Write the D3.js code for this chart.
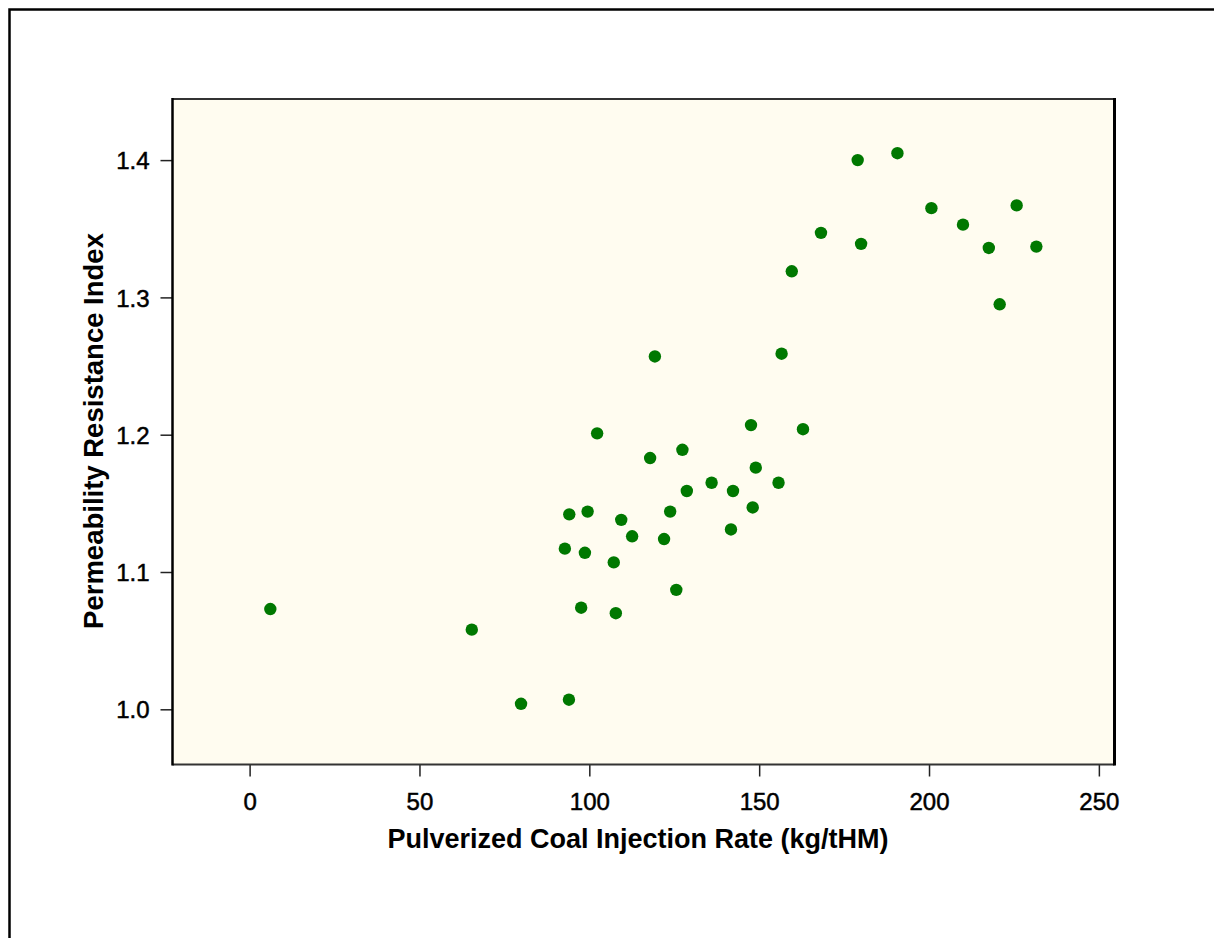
<!DOCTYPE html>
<html>
<head>
<meta charset="utf-8">
<script src="https://cdn.jsdelivr.net/npm/d3@7"></script>
<style>
	body{margin:0;background:#fff;}
	#chart text{font-family:"Liberation Sans",Arial,sans-serif;fill:#000;}
</style>
</head>
<body>
<div id="chart"></div>
<script>
// PCI rate (kg/tHM) vs permeability resistance index
var pciRate=[6.1,65.4,79.9,94.0,92.8,94.1,99.5,98.7,97.6,102.3,109.4,107.2,107.8,112.6,119.3,117.9,122.0,123.8,125.6,127.4,128.7,136.0,141.7,142.3,147.6,148.1,149.0,155.7,156.6,162.9,159.6,168.2,179.0,180.0,190.7,200.7,210.0,217.6,220.8,225.8,231.6];
var resistIdx=[1.073,1.058,1.004,1.007,1.117,1.142,1.144,1.114,1.074,1.201,1.138,1.107,1.070,1.126,1.257,1.183,1.124,1.144,1.087,1.189,1.159,1.165,1.131,1.159,1.207,1.147,1.176,1.165,1.259,1.204,1.319,1.347,1.400,1.339,1.405,1.365,1.353,1.336,1.295,1.367,1.337];
var xTicks=[0,50,100,150,200,250];
var yTicks=[1.0,1.1,1.2,1.3,1.4];
var xTitle="Pulverized Coal Injection Rate (kg/tHM)";
var yTitle="Permeability Resistance Index";

(function(){
	var width=1214;var height=938;
	var left=172.5;var right=1114.5;var top=99;var bottom=764.5;
	var ticklen=12;

	var svg=d3.select("#chart").append("svg")
			.attr("width",width)
			.attr("height",height);

	// page border (top + left only)
	svg.append("path")
		.attr("d","M9.5,938 L9.5,9.5 L1214,9.5")
		.attr("fill","none")
		.attr("stroke","#000")
		.attr("stroke-width",2.5);

	var x=d3.scaleLinear().domain([-22.7,254.6]).range([left,right]);
	var y=d3.scaleLinear().domain([0.9598,1.4445]).range([bottom,top]);

	svg.append("rect")
		.attr("x",left).attr("y",top)
		.attr("width",right-left).attr("height",bottom-top)
		.attr("fill","#fffcf0");

	var xAxis=d3.axisBottom(x).tickValues(xTicks).tickSize(ticklen).tickPadding(16).tickFormat(d3.format("d"));
	var yAxis=d3.axisLeft(y).tickValues(yTicks).tickSize(ticklen).tickPadding(11).tickFormat(d3.format(".1f"));

	var gx=svg.append("g").attr("transform","translate(0,"+bottom+")").call(xAxis);
	var gy=svg.append("g").attr("transform","translate("+left+",0)").call(yAxis);
	[gx,gy].forEach(function(g){
		g.select(".domain").remove();
		g.selectAll(".tick line").attr("stroke","#222").attr("stroke-width",1.5);
		g.selectAll(".tick text").style("font-size","24px")
			.style("stroke","#000").style("stroke-width","0.5px");
	});
	gy.selectAll(".tick text").attr("dy","0.36em");

	// frame
	svg.append("line").attr("x1",left).attr("x2",right).attr("y1",top).attr("y2",top)
		.attr("stroke","#333").attr("stroke-width",2);
	svg.append("line").attr("x1",left).attr("x2",right).attr("y1",bottom).attr("y2",bottom)
		.attr("stroke","#333").attr("stroke-width",2);
	svg.append("line").attr("x1",left).attr("x2",left).attr("y1",top-1).attr("y2",bottom+1)
		.attr("stroke","#000").attr("stroke-width",2.5);
	svg.append("line").attr("x1",right).attr("x2",right).attr("y1",top-1).attr("y2",bottom+1)
		.attr("stroke","#000").attr("stroke-width",3);

	svg.append("g")
		.selectAll("circle")
		.data(pciRate)
		.enter()
		.append("circle")
		.attr("cx",function(d){return x(d);})
		.attr("cy",function(d,i){return y(resistIdx[i]);})
		.attr("r",6.2)
		.attr("fill","#007800");

	svg.append("text")
		.attr("x",638).attr("y",848)
		.attr("text-anchor","middle")
		.style("font-size","27px").style("font-weight","bold")
		.text(xTitle);
	svg.append("text")
		.attr("transform","translate(103,431) rotate(-90)")
		.attr("text-anchor","middle")
		.style("font-size","27.5px").style("font-weight","bold")
		.text(yTitle);
})();
</script>
</body>
</html>
